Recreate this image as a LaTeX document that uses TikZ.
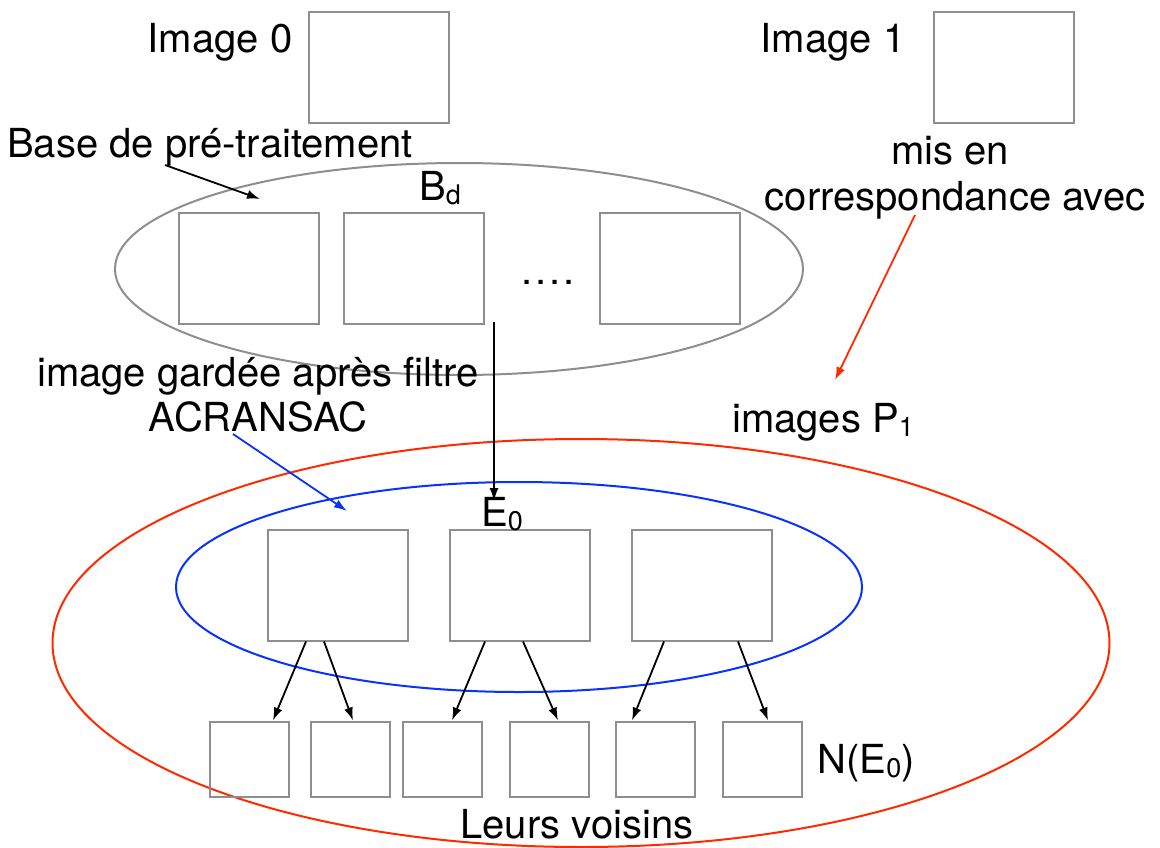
\documentclass[tikz,border=0pt]{standalone}
\usepackage{fontspec}
\setmainfont{TeX Gyre Heros}
\usetikzlibrary{arrows.meta,shapes.geometric}
\definecolor{boxgray}{HTML}{8E8E8E}
\definecolor{ellred}{HTML}{FF2A00}
\definecolor{ellblue}{HTML}{0A32FF}
\newcommand{\subsc}[1]{\raisebox{-0.1em}{\fontsize{27}{27}\selectfont #1}}
\begin{document}
\begin{tikzpicture}[x=1pt,y=-1pt,
  box/.style={draw=boxgray, line width=2pt, inner sep=0pt, minimum width=140pt, minimum height=111pt},
  sbox/.style={draw=boxgray, line width=2pt, inner sep=0pt, minimum width=79pt, minimum height=75pt},
  ell/.style={ellipse, line width=2pt, inner sep=0pt},
  lbl/.style={font=\fontsize{40}{46}\selectfont, inner sep=0pt, anchor=base},
  arr/.style={-{Latex[length=13pt,width=9pt]}, line width=1.8pt}]
\useasboundingbox (0,0) rectangle (1160,847);
% ellipses
\node[ell, draw=boxgray, minimum width=688pt, minimum height=212pt] (bd) at (459,269) {};
\node[ell, draw=ellred, minimum width=1057pt, minimum height=408pt] (p1) at (581,643) {};
\node[ell, draw=ellblue, minimum width=686pt, minimum height=210pt] (e0) at (519,587) {};
% top boxes
\node[box] (im0) at (379,67) {};
\node[box] (im1) at (1004,67) {};
\node[lbl] (tim0) at (220,52) {Image 0};
\node[lbl] (tim1) at (833,52) {Image 1};
% Bd boxes
\node[box] (b1) at (249,268) {};
\node[box] (b2) at (414,268) {};
\node[box] (b3) at (670,268) {};
\node[lbl] (dots) at (548,284) {.\kern3pt.\kern3pt.\kern3pt.};
\node[lbl] (tbd) at (440,200) {B\subsc{d}};
% E0 boxes
\node[box] (e1) at (338,585) {};
\node[box] (e2) at (520,585) {};
\node[box] (e3) at (702,585) {};
\node[lbl] (te0) at (502,526) {E\subsc{0}};
% neighbours
\node[sbox] (n1) at (249,759) {};
\node[sbox] (n2) at (350,759) {};
\node[sbox] (n3) at (442,759) {};
\node[sbox] (n4) at (549,759) {};
\node[sbox] (n5) at (655,759) {};
\node[sbox] (n6) at (762,759) {};
\node[lbl] (tn) at (866,773) {N(E\subsc{0})};
\node[lbl] (tlv) at (577,838) {Leurs voisins};
% labels
\node[lbl] (tbase) at (210,157) {Base de pré-traitement};
\node[lbl] (tgard) at (258,386) {image gardée après filtre};
\node[lbl] (tacr) at (258,431) {ACRANSAC};
\node[lbl] (tmis) at (950,164) {mis en};
\node[lbl] (tcorr) at (955,210) {correspondance avec};
\node[lbl] (tp1) at (823,432) {images P\subsc{1}};
% arrow end points
\coordinate (a1s) at (165,165); \coordinate (a1e) at (260,199);
\coordinate (a2s) at (494,322); \coordinate (a2e) at (494,501);
\coordinate (a3s) at (233,434); \coordinate (a3e) at (347,511);
\coordinate (a4s) at (915,215); \coordinate (a4e) at (835,380);
\draw[arr] (a1s) -- (a1e);
\draw[arr] (a2s) -- (a2e);
\draw[arr, draw=ellblue, fill=ellblue] (a3s) -- (a3e);
\draw[arr, draw=ellred, fill=ellred] (a4s) -- (a4e);
% neighbour arrows
\draw[arr] ([xshift=-32pt]e1.south) -- ([xshift=24pt]n1.north);
\draw[arr] ([xshift=-14pt]e1.south) -- ([xshift=3pt]n2.north);
\draw[arr] ([xshift=-35pt]e2.south) -- ([xshift=10pt]n3.north);
\draw[arr] ([xshift=3pt]e2.south) -- ([xshift=9pt]n4.north);
\draw[arr] ([xshift=-38pt]e3.south) -- ([xshift=-23pt]n5.north);
\draw[arr] ([xshift=36pt]e3.south) -- ([xshift=6pt]n6.north);
\end{tikzpicture}
\end{document}
